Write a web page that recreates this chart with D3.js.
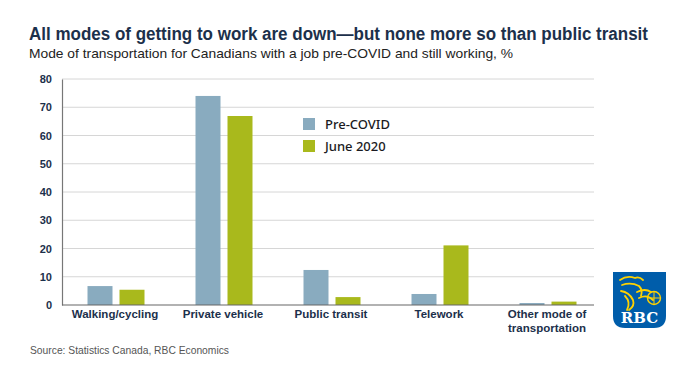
<!DOCTYPE html>
<html>
<head>
<meta charset="utf-8">
<script src="https://cdn.jsdelivr.net/npm/d3@7"></script>
<style>
  body { margin: 0; background: #fff; }
  svg { display: block; }
</style>
</head>
<body>
<svg id="chart" width="692" height="375"></svg>
<script>
// values
const categories = ["Walking/cycling", "Private vehicle", "Public transit", "Telework", "Other mode of\ntransportation"]
const preCovid = [6.7, 74.0, 12.4, 3.9, 0.7]
const june2020 = [5.4, 66.9, 2.8, 21.1, 1.2]
const seriesNames = ["Pre-COVID", "June 2020"]
const yTicks = [0, 10, 20, 30, 40, 50, 60, 70, 80]

const colors = ["#89abbf", "#a9b91c"]
const navy = "#1c304b"

let pad_left = 62
let plot_right = 594
let band_right = 602
let y_top = 79
let y_bottom = 305

let svg = d3.select('#chart')

// title + subtitle
svg.append('text').text('All modes of getting to work are down\u2014but none more so than public transit')
   .attr('x', 29).attr('y', 40).attr('fill', navy)
   .attr('font-family', 'Liberation Sans, Arial, sans-serif').attr('font-weight', 'bold').attr('font-size', 17.5)
   .attr('textLength', 619).attr('lengthAdjust', 'spacingAndGlyphs')
svg.append('text').text('Mode of transportation for Canadians with a job pre-COVID and still working, %')
   .attr('x', 29).attr('y', 57.5).attr('fill', '#222')
   .attr('font-family', 'Liberation Sans, Arial, sans-serif').attr('font-size', 13.5)
   .attr('textLength', 484).attr('lengthAdjust', 'spacingAndGlyphs')

let xScale = d3.scaleBand().domain(categories).range([pad_left, band_right])
let yScale = d3.scaleLinear().domain([0, 80]).range([y_bottom, y_top])

// gridlines
svg.append('g').selectAll('line').data(yTicks.filter(d => d > 0)).join('line')
   .attr('x1', pad_left).attr('x2', plot_right)
   .attr('y1', d => yScale(d)).attr('y2', d => yScale(d))
   .attr('stroke', '#d6d6d6').attr('stroke-width', 1)

// y axis
let yAxis = d3.axisLeft(yScale).tickValues(yTicks).tickSize(0).tickPadding(10)
let yG = svg.append('g').attr('transform', 'translate(' + pad_left + ',0)').call(yAxis)
yG.select('.domain').attr('stroke', '#777').attr('stroke-width', 1.2)
yG.selectAll('text').attr('font-family', 'Liberation Sans, Arial, sans-serif')
  .attr('font-weight', 'bold').attr('font-size', 11).attr('fill', navy)

// bars
let rows = categories.map((c, i) => ({cat: c, vals: [preCovid[i], june2020[i]]}))
let barW = 25
let gap = 7
let groups = svg.append('g').selectAll('g').data(rows).join('g')
groups.selectAll('rect').data(d => d.vals.map((v, j) => ({cat: d.cat, v: v, j: j}))).join('rect')
      .attr('x', d => xScale(d.cat) + xScale.bandwidth() / 2 + (d.j === 0 ? -(barW + gap / 2) : gap / 2))
      .attr('width', barW)
      .attr('y', d => yScale(d.v))
      .attr('height', d => yScale(0) - yScale(d.v))
      .attr('fill', d => colors[d.j])

// baseline
svg.append('line').attr('x1', pad_left).attr('x2', plot_right)
   .attr('y1', yScale(0)).attr('y2', yScale(0))
   .attr('stroke', '#666').attr('stroke-width', 1.2)

// category labels
let catLabels = svg.append('g').selectAll('text').data(categories).join('text')
   .attr('x', d => xScale(d) + xScale.bandwidth() / 2 - 1)
   .attr('y', 318)
   .attr('text-anchor', 'middle').attr('fill', navy)
   .attr('font-family', 'Liberation Sans, Arial, sans-serif').attr('font-weight', 'bold').attr('font-size', 11.5)
catLabels.selectAll('tspan').data(d => d.split('\n')).join('tspan')
   .attr('x', function () { return d3.select(this.parentNode).attr('x') })
   .attr('dy', (d, i) => i === 0 ? 0 : 14)
   .text(d => d)

// legend
let legend = svg.append('g').selectAll('g').data(seriesNames).join('g')
   .attr('transform', (d, i) => 'translate(303,' + (118 + i * 22) + ')')
legend.append('rect').attr('width', 12).attr('height', 12).attr('fill', (d, i) => colors[i])
legend.append('text').text(d => d).attr('x', 22).attr('y', 11)
   .attr('font-family', 'Noto Sans, sans-serif').attr('font-size', 13).attr('font-weight', 500).attr('fill', '#1a1a22')

// source
svg.append('text').text('Source: Statistics Canada, RBC Economics')
   .attr('x', 30).attr('y', 354).attr('fill', '#555')
   .attr('font-family', 'Liberation Sans, Arial, sans-serif').attr('font-size', 11)
   .attr('textLength', 199).attr('lengthAdjust', 'spacingAndGlyphs')

// RBC logo (simplified shield with lion strokes)
let logo = svg.append('g').attr('transform', 'translate(613,272)')
logo.append('path')
    .attr('d', 'M0,0 H53 V44 Q53,56 41,56 H12 Q0,56 0,44 Z')
    .attr('fill', '#005daa')
let lion = [
  'M7,8 Q14,3 22,6 Q26,4 30,8',
  'M9,13 Q18,10 26,14 Q30,18 28,24',
  'M8,19 Q16,20 20,28 Q22,34 16,38',
  'M12,24 Q18,30 14,38',
  'M24,20 Q32,16 38,20',
  'M26,26 Q34,22 40,28'
]
logo.selectAll('path.lion').data(lion).join('path').attr('class', 'lion')
    .attr('d', d => d).attr('fill', 'none').attr('stroke', '#ffd200').attr('stroke-width', 1.8)
    .attr('stroke-linecap', 'round')
logo.append('circle').attr('cx', 41).attr('cy', 26).attr('r', 6.5)
    .attr('fill', 'none').attr('stroke', '#ffd200').attr('stroke-width', 1.4)
logo.append('path').attr('d', 'M34.5,26 H47.5 M41,19.5 V32.5')
    .attr('stroke', '#ffd200').attr('stroke-width', 1)
logo.append('text').text('RBC').attr('x', 26.5).attr('y', 51)
    .attr('text-anchor', 'middle').attr('fill', '#fff')
    .attr('font-family', 'DejaVu Serif, serif').attr('font-weight', 'bold').attr('font-size', 15)
</script>
</body>
</html>
